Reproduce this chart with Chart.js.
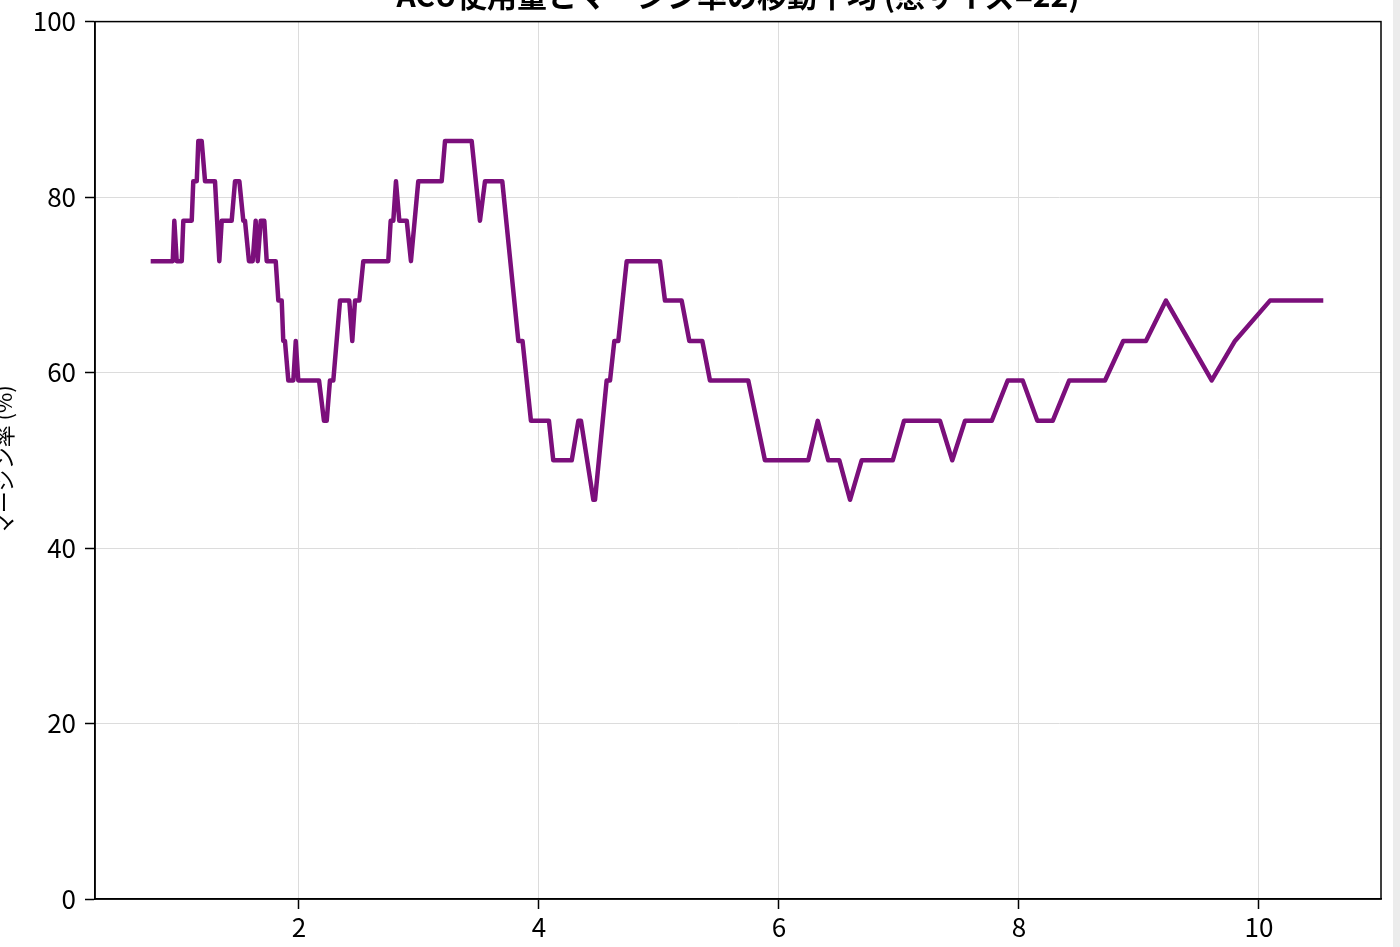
<!DOCTYPE html>
<html lang="ja">
<head>
<meta charset="utf-8">
<title>ACU使用量とマージン率の移動平均</title>
<script src="https://cdn.jsdelivr.net/npm/chart.js@4.4.1/dist/chart.umd.min.js"></script>
<style>
  html, body { margin: 0; padding: 0; background: #ececec; overflow: hidden; }
  #wrap { position: absolute; left: 0; top: 0; width: 1393px; height: 947px; background: #fff; overflow: hidden; }
  #chart { position: absolute; left: 0; top: -3px; }
</style>
</head>
<body>
<div id="wrap"><canvas id="chart" width="1393" height="950"></canvas></div>
<script>
// moving average (window = 22)
const acuUsage = [
  0.764, 0.948, 0.961, 0.981, 1.023, 1.036, 1.106, 1.119, 1.148, 1.161,
  1.189, 1.217, 1.300, 1.336, 1.356, 1.439, 1.467, 1.503, 1.536, 1.550,
  1.583, 1.614, 1.639, 1.656, 1.681, 1.711, 1.731, 1.806, 1.828, 1.856,
  1.869, 1.883, 1.911, 1.953, 1.973, 1.994, 2.167, 2.208, 2.231, 2.258,
  2.286, 2.342, 2.419, 2.444, 2.467, 2.503, 2.536, 2.744, 2.764, 2.786,
  2.808, 2.836, 2.898, 2.933, 2.994, 3.189, 3.217, 3.439, 3.508, 3.550,
  3.694, 3.828, 3.863, 3.933, 4.083, 4.119, 4.273, 4.328, 4.350, 4.453,
  4.467, 4.564, 4.592, 4.628, 4.661, 4.731, 5.008, 5.050, 5.189, 5.253,
  5.361, 5.425, 5.744, 5.883, 6.244, 6.323, 6.411, 6.503, 6.592, 6.689,
  6.948, 7.042, 7.342, 7.444, 7.550, 7.773, 7.906, 8.031, 8.153, 8.281,
  8.419, 8.717, 8.869, 9.058, 9.225, 9.606, 9.800, 10.092, 10.536
];
const marginRate = [
  72.7, 72.7, 77.3, 72.7, 72.7, 77.3, 77.3, 81.8, 81.8, 86.4,
  86.4, 81.8, 81.8, 72.7, 77.3, 77.3, 81.8, 81.8, 77.3, 77.3,
  72.7, 72.7, 77.3, 72.7, 77.3, 77.3, 72.7, 72.7, 68.2, 68.2,
  63.6, 63.6, 59.1, 59.1, 63.6, 59.1, 59.1, 54.5, 54.5, 59.1,
  59.1, 68.2, 68.2, 63.6, 68.2, 68.2, 72.7, 72.7, 77.3, 77.3,
  81.8, 77.3, 77.3, 72.7, 81.8, 81.8, 86.4, 86.4, 77.3, 81.8,
  81.8, 63.6, 63.6, 54.5, 54.5, 50.0, 50.0, 54.5, 54.5, 45.5,
  45.5, 59.1, 59.1, 63.6, 63.6, 72.7, 72.7, 68.2, 68.2, 63.6,
  63.6, 59.1, 59.1, 50.0, 50.0, 54.5, 50.0, 50.0, 45.5, 50.0,
  50.0, 54.5, 54.5, 50.0, 54.5, 54.5, 59.1, 59.1, 54.5, 54.5,
  59.1, 59.1, 63.6, 63.6, 68.2, 59.1, 63.6, 68.2, 68.2
];
const xTicks = [2, 4, 6, 8, 10];
const yTicks = [0, 20, 40, 60, 80, 100];

const points = acuUsage.map((x, i) => ({ x: x, y: marginRate[i] }));

const fontFamily = "'Noto Sans CJK JP', 'Noto Sans', sans-serif";

// matplotlib-style frame on all four sides
const frameBox = {
  id: 'frameBox',
  afterDraw(chart) {
    const { ctx, chartArea: a } = chart;
    ctx.save();
    ctx.strokeStyle = '#000';
    ctx.lineWidth = 1.5;
    ctx.strokeRect(a.left, a.top, a.right - a.left, a.bottom - a.top);
    ctx.restore();
  }
};

new Chart(document.getElementById('chart'), {
  type: 'line',
  data: {
    datasets: [{
      label: 'マージン率',
      data: points,
      borderColor: '#7b0f7b',
      borderWidth: 4.5,
      pointRadius: 0,
      tension: 0,
      borderJoinStyle: 'round',
      fill: false
    }]
  },
  options: {
    responsive: false,
    animation: false,
    layout: { padding: { left: 0, right: 12, top: 0, bottom: 0 } },
    plugins: {
      legend: { display: false },
      tooltip: { enabled: false },
      title: {
        display: true,
        text: 'ACU使用量とマージン率の移動平均 (窓サイズ=22)',
        color: '#000',
        fullSize: false,
        font: { family: fontFamily, size: 30, weight: 'bold' },
        padding: { top: -26, bottom: 8 }
      }
    },
    scales: {
      x: {
        type: 'linear',
        min: 0.3,
        max: 11.017,
        afterBuildTicks: scale => { scale.ticks = xTicks.map(v => ({ value: v })); },
        afterFit: scale => { scale.height = 48; },
        grid: { color: '#dcdcdc', lineWidth: 1, tickColor: '#000', tickLength: 10, tickWidth: 1.5 },
        border: { color: '#000', width: 1.5 },
        ticks: { color: '#000', padding: 3, font: { family: fontFamily, size: 26 } }
      },
      y: {
        min: 0,
        max: 100,
        afterBuildTicks: scale => { scale.ticks = yTicks.map(v => ({ value: v })); },
        afterFit: scale => { scale.width = 95; },
        grid: { color: '#dcdcdc', lineWidth: 1, tickColor: '#000', tickLength: 10, tickWidth: 1.5 },
        border: { color: '#000', width: 1.5 },
        ticks: { color: '#000', padding: 9, font: { family: fontFamily, size: 26 } },
        title: {
          display: true,
          text: 'マージン率 (%)',
          color: '#000',
          font: { family: fontFamily, size: 22 },
          padding: { top: -10, bottom: 0 }
        }
      }
    }
  },
  plugins: [frameBox]
});
</script>
</body>
</html>
